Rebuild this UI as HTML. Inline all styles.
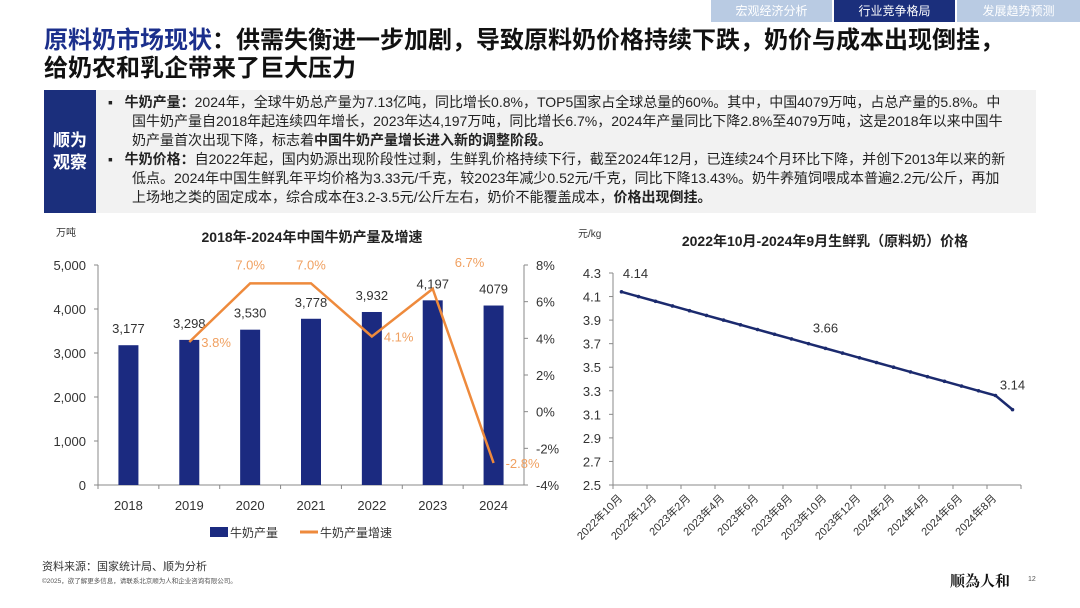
<!DOCTYPE html>
<html><head><meta charset="utf-8"><style>
body{margin:0;width:1080px;height:608px;background:#fff;font-family:"Liberation Sans","Noto Sans CJK SC",sans-serif;position:relative;overflow:hidden}
.abs{position:absolute}
.tab{position:absolute;top:0;height:22px;line-height:22px;font-size:12px;color:#fff;text-align:center}
</style></head><body>
<div class="tab" style="left:711px;width:121px;background:#b9cbe3">宏观经济分析</div>
<div class="tab" style="left:834px;width:121px;background:#1b2f7c">行业竞争格局</div>
<div class="tab" style="left:957px;width:123px;background:#b9cbe3">发展趋势预测</div>
<div class="abs" style="left:44px;top:27px;font-size:24px;font-weight:bold;line-height:28px;color:#111;width:1030px;white-space:nowrap"><span style="color:#1b2f8c">原料奶市场现状</span>：供需失衡进一步加剧，导致原料奶价格持续下跌，奶价与成本出现倒挂，<br>给奶农和乳企带来了巨大压力</div>
<div class="abs" style="left:44px;top:90px;width:52px;height:123px;background:#1b2f7c;color:#fff;font-size:17px;font-weight:bold;display:flex;align-items:center;justify-content:center;text-align:center;line-height:22px">顺为<br>观察</div>
<div class="abs" style="left:96px;top:90px;width:940px;height:123px;background:#f2f2f2"></div>
<div class="abs" style="left:108px;top:93px;width:905px;font-size:14px;line-height:19px;color:#222">
<div style="padding-left:24px;text-indent:-24px">▪&nbsp;&nbsp;&nbsp;<b>牛奶产量：</b>2024年，全球牛奶总产量为7.13亿吨，同比增长0.8%，TOP5国家占全球总量的60%。其中，中国4079万吨，占总产量的5.8%。中国牛奶产量自2018年起连续四年增长，2023年达4,197万吨，同比增长6.7%，2024年产量同比下降2.8%至4079万吨，这是2018年以来中国牛奶产量首次出现下降，标志着<b>中国牛奶产量增长进入新的调整阶段。</b></div>
<div style="padding-left:24px;text-indent:-24px">▪&nbsp;&nbsp;&nbsp;<b>牛奶价格：</b>自2022年起，国内奶源出现阶段性过剩，生鲜乳价格持续下行，截至2024年12月，已连续24个月环比下降，并创下2013年以来的新低点。2024年中国生鲜乳年平均价格为3.33元/千克，较2023年减少0.52元/千克，同比下降13.43%。奶牛养殖饲喂成本普遍2.2元/公斤，再加上场地之类的固定成本，综合成本在3.2-3.5元/公斤左右，奶价不能覆盖成本，<b>价格出现倒挂。</b></div>
</div>
<svg class="abs" style="left:0;top:0" width="1080" height="608" id="charts"></svg>
<div class="abs" style="left:42px;top:558px;font-size:11px;color:#333">资料来源：国家统计局、顺为分析</div>
<div class="abs" style="left:42px;top:575px;font-size:6.5px;color:#555">©2025，欲了解更多信息，请联系北京顺为人和企业咨询有限公司。</div>
<div class="abs" style="left:950px;top:570px;font-size:15px;font-weight:bold;color:#111;font-family:'Noto Serif CJK SC',serif">顺為人和</div>
<div class="abs" style="left:1028px;top:576px;font-size:7px;color:#555">12</div>
<script>
const years=['2018','2019','2020','2021','2022','2023','2024'];
const production=[3177,3298,3530,3778,3932,4197,4079];
const prodLabels=['3,177','3,298','3,530','3,778','3,932','4,197','4079'];
const growth=[null,3.8,7.0,7.0,4.1,6.7,-2.8];
const leftTicks=[0,1000,2000,3000,4000,5000];
const leftTickLabels=['0','1,000','2,000','3,000','4,000','5,000'];
const rightTicks=[-4,-2,0,2,4,6,8];
const months=['2022年10月','2022年11月','2022年12月','2023年1月','2023年2月','2023年3月','2023年4月','2023年5月','2023年6月','2023年7月','2023年8月','2023年9月','2023年10月','2023年11月','2023年12月','2024年1月','2024年2月','2024年3月','2024年4月','2024年5月','2024年6月','2024年7月','2024年8月','2024年9月'];
const prices=[4.14,4.10,4.06,4.02,3.98,3.94,3.90,3.86,3.82,3.78,3.74,3.70,3.66,3.62,3.58,3.54,3.50,3.46,3.42,3.38,3.34,3.30,3.26,3.14];
const priceTicks=[2.5,2.7,2.9,3.1,3.3,3.5,3.7,3.9,4.1,4.3];
const priceLabelIdx=[0,12,23];

const svg=document.getElementById('charts');const NS='http://www.w3.org/2000/svg';
function el(t,a,txt){const e=document.createElementNS(NS,t);for(const k in a)e.setAttribute(k,a[k]);if(txt!==undefined)e.textContent=txt;svg.appendChild(e);return e;}
const F='Liberation Sans, Noto Sans CJK SC, sans-serif';
const L0=98,L1=524,Y0=485,Y1=265;
const cw=(L1-L0)/years.length;
const xc=i=>L0+cw*(i+0.5);
const yl=v=>Y0-(v/5000)*(Y0-Y1);
const yr=v=>Y0-((v+4)/12)*(Y0-Y1);
let t=el('text',{x:312,y:242,'text-anchor':'middle','font-size':14,'font-weight':'bold',fill:'#222','font-family':F},'2018年-2024年中国牛奶产量及增速');

t=el('text',{x:56,y:236,'font-size':10,fill:'#333','font-family':F},'万吨');

el('line',{x1:L0,y1:Y1,x2:L0,y2:Y0,stroke:'#888'});
el('line',{x1:L1,y1:Y1,x2:L1,y2:Y0,stroke:'#888'});
el('line',{x1:L0,y1:Y0,x2:L1,y2:Y0,stroke:'#888'});
leftTicks.forEach((v,i)=>{el('line',{x1:L0-4,y1:yl(v),x2:L0,y2:yl(v),stroke:'#888'});
 const e=el('text',{x:L0-12,y:yl(v)+5,'text-anchor':'end','font-size':13,fill:'#333','font-family':F},leftTickLabels[i]);
 });
rightTicks.forEach(v=>{el('line',{x1:L1,y1:yr(v),x2:L1+4,y2:yr(v),stroke:'#888'});
 const e=el('text',{x:L1+12,y:yr(v)+5,'font-size':13,fill:'#333','font-family':F},v+'%');
 });
years.forEach((y,i)=>{el('line',{x1:L0+cw*i,y1:Y0,x2:L0+cw*i,y2:Y0+4,stroke:'#888'});
 const b=el('rect',{x:xc(i)-10,y:yl(production[i]),width:20,height:Y0-yl(production[i]),fill:'#1b2a80'});
 
 const l=el('text',{x:xc(i),y:yl(production[i])-12,'text-anchor':'middle','font-size':13,fill:'#333','font-family':F},prodLabels[i]);
 
 const xl=el('text',{x:xc(i),y:510,'text-anchor':'middle','font-size':13,fill:'#333','font-family':F},y);
 });
let pts=[];growth.forEach((g,i)=>{if(g!==null)pts.push(xc(i)+','+yr(g));});
const gl=el('polyline',{points:pts.join(' '),fill:'none',stroke:'#ee8a3c','stroke-width':2.5});

growth.forEach((g,i)=>{if(g===null)return;let dx=0,dy=-14,anc='middle';
 if(g<5&&g>0){dx=12;dy=5;anc='start';}if(g<0){dx=12;dy=5;anc='start';}if(i===5){dx=22;dy=-22;anc='start';}
 const e=el('text',{x:xc(i)+dx,y:yr(g)+dy,'text-anchor':anc,'font-size':13,fill:'#f0a060','font-family':F},g.toFixed(1)+'%');
 });
let r=el('rect',{x:210,y:527,width:18,height:10,fill:'#1b2a80'});
t=el('text',{x:230,y:537,'font-size':12,fill:'#333','font-family':F},'牛奶产量');
r=el('line',{x1:300,y1:532,x2:318,y2:532,stroke:'#ee8a3c','stroke-width':3});
t=el('text',{x:320,y:537,'font-size':12,fill:'#333','font-family':F},'牛奶产量增速');
const R0=613,R1=1021,P0=485,P1=273;
const mw=(R1-R0)/months.length;
const xm=i=>R0+mw*(i+0.5);
const yp=v=>P0-((v-2.5)/1.8)*(P0-P1);
t=el('text',{x:825,y:246,'text-anchor':'middle','font-size':14,'font-weight':'bold',fill:'#222','font-family':F},'2022年10月-2024年9月生鲜乳（原料奶）价格');

t=el('text',{x:578,y:237,'font-size':10,fill:'#333','font-family':F},'元/kg');
el('line',{x1:R0,y1:P1,x2:R0,y2:P0,stroke:'#888'});
el('line',{x1:R0,y1:P0,x2:R1,y2:P0,stroke:'#888'});
priceTicks.forEach(v=>{el('line',{x1:R0-4,y1:yp(v),x2:R0,y2:yp(v),stroke:'#888'});
 const e=el('text',{x:R0-12,y:yp(v)+5,'text-anchor':'end','font-size':13,fill:'#333','font-family':F},v.toFixed(1));
 });
months.forEach((m,i)=>{if(i%2)return;const x=R0+mw*i;el('line',{x1:x,y1:P0,x2:x,y2:P0+4,stroke:'#888'});
 const e=el('text',{x:x+10,y:P0+14,'text-anchor':'end','font-size':11,fill:'#333','font-family':F,transform:`rotate(-45 ${x+10} ${P0+14})`},m);
 });
el('line',{x1:R1,y1:P0,x2:R1,y2:P0+4,stroke:'#888'});
const pl=el('polyline',{points:prices.map((v,i)=>xm(i)+','+yp(v)).join(' '),fill:'none',stroke:'#1b2a6e','stroke-width':2.5});

prices.forEach((v,i)=>{const c=el('circle',{cx:xm(i),cy:yp(v),r:1.8,fill:'#1b2a6e'});});
priceLabelIdx.forEach(i=>{let dx=0,dy=-16;if(i===0){dx=14;dy=-14;}if(i===23){dx=0;dy=-20;}
 const e=el('text',{x:xm(i)+dx,y:yp(prices[i])+dy,'text-anchor':'middle','font-size':13,fill:'#333','font-family':F},prices[i].toFixed(2));
 });
</script>
</body></html>
